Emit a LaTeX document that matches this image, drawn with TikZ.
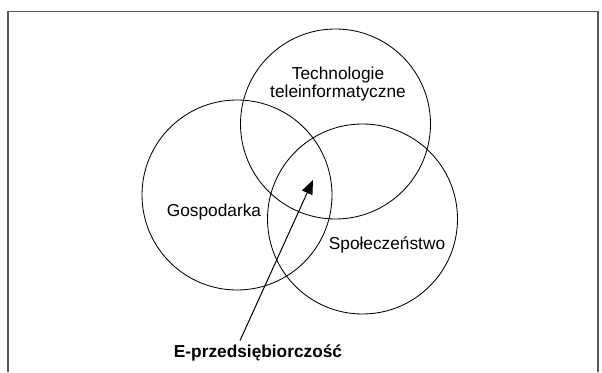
\documentclass[tikz,border=0pt]{standalone}
\usepackage{fontspec}
\setmainfont{Liberation Sans}
\usetikzlibrary{positioning,calc,arrows.meta}

\tikzset{
    ring/.style={draw, circle, line width=0.6pt, minimum size=4.75cm, inner sep=0pt},
    ringtext/.style={font=\fontsize{12.3}{13}\selectfont, align=center, inner sep=0pt},
    arrowline/.style={line width=0.7pt, -{Triangle[length=10pt,width=8pt]}}
}

\begin{document}
\begin{tikzpicture}
    \useasboundingbox (0,0) rectangle (15.05,9.3);
    \draw[black!65, line width=1.1pt] (0.2,0) -- (0.2,9.01) -- (14.95,9.01) -- (14.95,0);

    \node[ring] (gosp) at (5.925,4.425) {};
    \node[ring] (tech) at (8.3875,6.2) {};
    \node[ring] (spol) at (9.0625,3.825) {};

    \node[ringtext] (techtext) at (8.45,7.2) {Technologie\\teleinformatyczne};
    \node[ringtext] (gosptext) at (5.35,4.0) {Gospodarka};
    \node[ringtext] (spoltext) at (9.675,3.175) {Społeczeństwo};

    \node[ringtext, font=\fontsize{12.3}{13}\selectfont\bfseries, anchor=base, inner sep=2.8pt] (elabel) at (6.45,0.3625) {E-przedsiębiorczość};
    \coordinate (tip) at (7.825,4.8);
    \draw[arrowline] ([xshift=-0.45cm]elabel.north) -- (tip);
\end{tikzpicture}
\end{document}
